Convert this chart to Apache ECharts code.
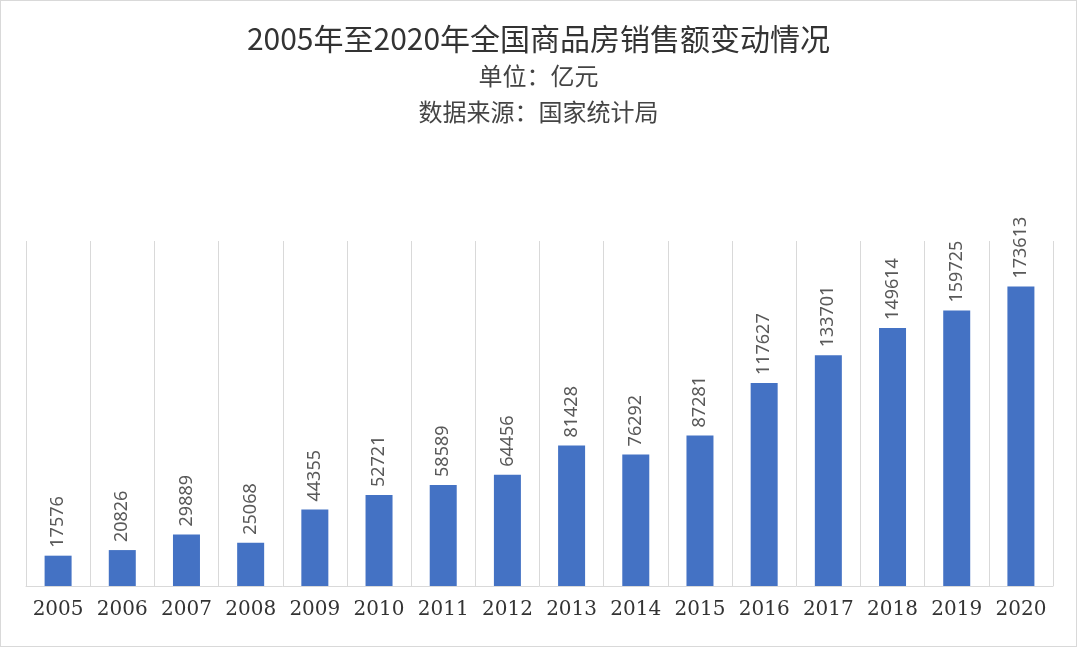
<!DOCTYPE html>
<html><head><meta charset="utf-8">
<script src="https://cdn.jsdelivr.net/npm/echarts@6/dist/echarts.min.js"></script>
<style>html,body{margin:0;padding:0;background:#fff}#main{width:1075px;height:645px;border:1px solid #d9d9d9}</style>
</head><body><div id="main"></div>
<script>
var years = ['2005','2006','2007','2008','2009','2010','2011','2012','2013','2014','2015','2016','2017','2018','2019','2020'];
var sales = [17576,20826,29889,25068,44355,52721,58589,64456,81428,76292,87281,117627,133701,149614,159725,173613];

var chart = echarts.init(document.getElementById('main'));
chart.setOption({
  title: {
    text: '2005年至2020年全国商品房销售额变动情况',
    subtext: '单位：亿元\n数据来源：国家统计局',
    left: 'center', top: 18, itemGap: 4,
    textStyle: {fontFamily: 'Noto Sans CJK SC', fontSize: 30, fontWeight: 'normal', color: '#333'},
    subtextStyle: {fontFamily: 'Noto Sans CJK SC', fontSize: 24, color: '#444', lineHeight: 36}
  },
  grid: {left: 25, right: 23, top: 240, bottom: 60},
  xAxis: {
    type: 'category', data: years,
    axisLine: {lineStyle: {color: '#d9d9d9'}},
    axisTick: {show: false},
    splitLine: {show: true, lineStyle: {color: '#d9d9d9'}},
    axisLabel: {color: '#333', fontSize: 20, fontFamily: 'DejaVu Serif', margin: 14, interval: 0}
  },
  yAxis: {type: 'value', min: 0, max: 200000, show: false},
  series: [{
    type: 'bar', data: sales, barWidth: 27,
    itemStyle: {color: '#4472C4'},
    label: {show: true, position: 'top', rotate: 90, align: 'left', verticalAlign: 'middle',
      distance: 8, color: '#595959', fontSize: 18, fontFamily: 'Noto Sans'}
  }]
});
</script></body></html>
